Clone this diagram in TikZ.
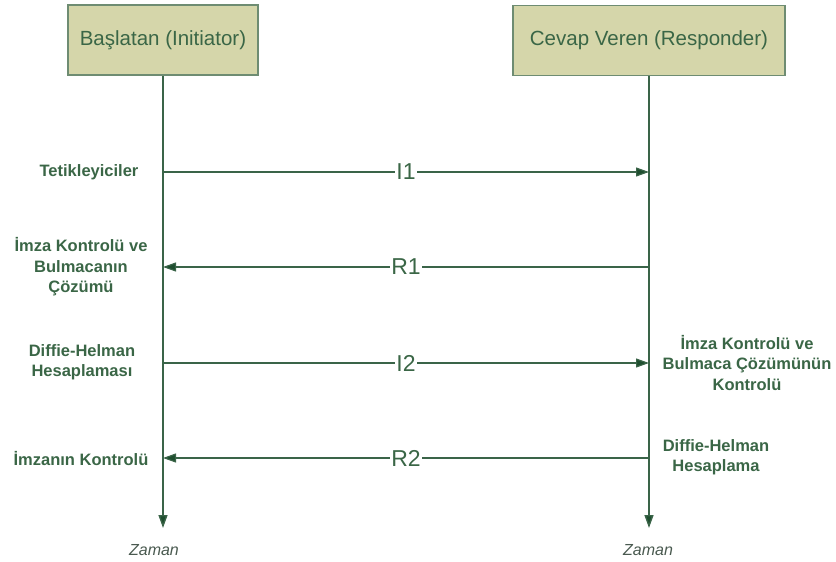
\documentclass[tikz,border=0pt]{standalone}
\usepackage{fontspec}
\setmainfont{Liberation Sans}
\usetikzlibrary{arrows.meta}
\definecolor{boxfill}{HTML}{D5D6AA}
\definecolor{boxline}{HTML}{6E8C72}
\definecolor{txtgreen}{HTML}{3A6646}
\definecolor{linegreen}{HTML}{3A6448}
\definecolor{headgreen}{HTML}{1E4E2E}
\definecolor{zamangray}{HTML}{4A5A50}
\tikzset{
  actor/.style={draw=boxline, line width=1.6pt, fill=boxfill, text=txtgreen, font=\fontsize{20.5}{24}\selectfont, minimum height=70pt, inner sep=0pt},
  lifeline/.style={draw=linegreen, line width=1.4pt, -{Triangle[length=13pt,width=9pt,fill=headgreen]}},
  msg/.style={draw=linegreen, line width=1.2pt, -{Triangle[length=13pt,width=9pt,fill=headgreen]}},
  msglabel/.style={fill=white, text=txtgreen, font=\fontsize{23}{25}\selectfont, inner sep=1pt},
  sidelabel/.style={text=txtgreen, font=\bfseries\fontsize{16.5}{20.5}\selectfont, align=center},
  zaman/.style={text=zamangray, font=\itshape\fontsize{16}{18}\selectfont}
}
\begin{document}
\begin{tikzpicture}[x=1pt,y=-1pt]
\useasboundingbox (0,0) rectangle (836,562);
\node[actor, minimum width=190pt] (ini) at (163,40) {Başlatan (Initiator)};
\node[actor, minimum width=272pt] (res) at (649,40.5) {Cevap Veren (Responder)};
\coordinate (iniend) at (163,528);
\coordinate (resend) at (649,528);
\draw[lifeline] (ini.south) -- (iniend);
\draw[lifeline] (res.south -| resend) -- (resend);
\coordinate (i1a) at (163,172); \coordinate (i1b) at (649,172);
\coordinate (r1a) at (649,267); \coordinate (r1b) at (163,267);
\coordinate (i2a) at (163,363); \coordinate (i2b) at (649,363);
\coordinate (r2a) at (649,458); \coordinate (r2b) at (163,458);
\draw[msg] (i1a) -- node[msglabel, pos=0.5] (li1) {I1} (i1b);
\draw[msg] (r1a) -- node[msglabel, pos=0.5] (lr1) {R1} (r1b);
\draw[msg] (i2a) -- node[msglabel, pos=0.5] (li2) {I2} (i2b);
\draw[msg] (r2a) -- node[msglabel, pos=0.5] (lr2) {R2} (r2b);
\node[sidelabel] (t1) at (89,172) {Tetikleyiciler};
\node[sidelabel] (t2) at (81,267) {İmza Kontrolü ve\\Bulmacanın\\Çözümü};
\node[sidelabel] (t3) at (82,362) {Diffie-Helman\\Hesaplaması};
\node[sidelabel] (t4) at (81,459) {İmzanın Kontrolü};
\node[sidelabel] (t5) at (747,363) {İmza Kontrolü ve\\Bulmaca Çözümünün\\Kontrolü};
\node[sidelabel] (t6) at (716,457) {Diffie-Helman\\Hesaplama};
\node[zaman] (z1) at (154,550) {Zaman};
\node[zaman] (z2) at (648,550) {Zaman};
\end{tikzpicture}
\end{document}
